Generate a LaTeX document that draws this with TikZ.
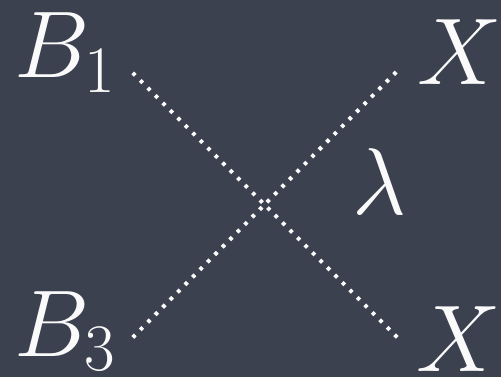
\RequirePackage{fix-cm}
\documentclass[tikz,border=0pt]{standalone}
\usepackage{tikz}
\usetikzlibrary{positioning}
\usepackage{xcolor}
\definecolor{slate}{HTML}{3C4150}
\definecolor{chalk}{HTML}{FAFAFA}

\begin{document}
\begin{tikzpicture}[
  x=1pt, y=1pt,
  lbl/.style={inner sep=0pt, anchor=base west, text=chalk, font=\fontsize{95}{100}\selectfont},
  dotline/.style={draw=chalk, line width=4pt, dash pattern=on 3.6pt off 7pt}
]
\fill[slate] (0,0) rectangle (502,378);

\node[lbl] (b1) at (14,300) {$B_1$};
\node[lbl] (xtop) at (418,293) {$X$};
\node[lbl] (lam) at (353,163) {$\lambda$};
\node[lbl] (b3) at (14,21) {$B_3$};
\node[lbl] (xbot) at (417,6) {$X$};

\coordinate (b1end) at (133,305);
\coordinate (xtopend) at (397,306);
\coordinate (b3end) at (133,40);
\coordinate (xbotend) at (398,40);

\draw[dotline] (b1end) -- (xbotend);
\draw[dotline] (b3end) -- (xtopend);

\end{tikzpicture}
\end{document}
